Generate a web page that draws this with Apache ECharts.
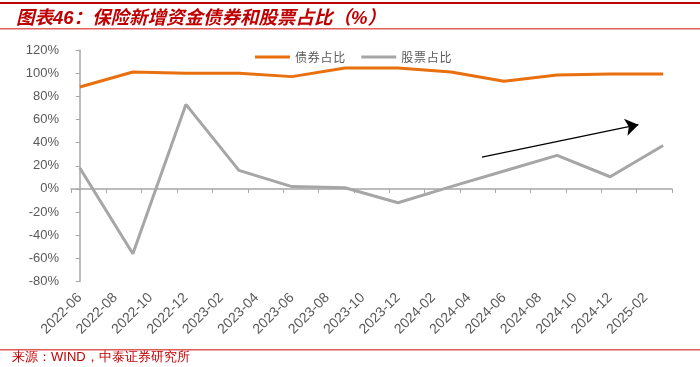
<!DOCTYPE html>
<html><head><meta charset="utf-8">
<script src="https://cdn.jsdelivr.net/npm/echarts@6/dist/echarts.min.js"></script>
<style>html,body{margin:0;padding:0;background:#fff}#c{width:700px;height:367px}</style>
</head><body><div id="c"></div>
<script>
// Monthly categories (data reported quarterly)
const months = ["2022-06","2022-07","2022-08","2022-09","2022-10","2022-11","2022-12",
"2023-01","2023-02","2023-03","2023-04","2023-05","2023-06","2023-07","2023-08","2023-09","2023-10","2023-11","2023-12",
"2024-01","2024-02","2024-03","2024-04","2024-05","2024-06","2024-07","2024-08","2024-09","2024-10","2024-11","2024-12",
"2025-01","2025-02","2025-03"];
const bondShare = [88,null,null,101,null,null,100,null,null,100,null,null,97,null,null,104.5,null,null,104.5,null,null,101,null,null,93,null,null,98.5,null,null,99.3,null,null,99.3];
const stockShare = [18,null,null,-56,null,null,73,null,null,16,null,null,2,null,null,1,null,null,-12,null,null,2,null,null,15.5,null,null,29,null,null,10.5,null,null,37.5];
// trend arrow: [month position, value]
const arrowFrom = [22.75, 27.4];
const arrowTo = [31.6, 55.5];
const yTicks = {min:-80, max:120, step:20};

const chart = echarts.init(document.getElementById('c'));
const hs = '\u200A';
chart.setOption({
  animation:false,
  textStyle:{fontFamily:'"Liberation Sans", Arial, "Noto Sans CJK SC", sans-serif'},
  title:{
    text:'图表46：保险新增资金债券和股票占比（%）',
    left:11, top:5,
    textStyle:{color:'#C00000', fontStyle:'italic', fontWeight:'bold', fontSize:18.5,
      fontFamily:'"Liberation Sans","Noto Sans CJK SC", sans-serif'}
  },
  graphic:[
    {type:'rect', left:0, top:2, shape:{width:700, height:2}, style:{fill:'#C00000'}},
    {type:'rect', left:0, top:28, shape:{width:700, height:1.5}, style:{fill:'#E06060'}},
    {type:'rect', left:0, top:349, shape:{width:700, height:1.5}, style:{fill:'#E05A5A'}},
    {type:'text', left:12, top:351, style:{text:'来源：WIND，中泰证券研究所', fill:'#C00000', fontSize:13,
      font:'13px "Liberation Sans","Noto Sans CJK SC", sans-serif'}}
  ],
  legend:{
    data:['债券占比','股票占比'],
    left:250, top:46, icon:'rect', itemWidth:35, itemHeight:3, itemGap:16,
    textStyle:{color:'#595959', fontSize:12, fontFamily:'"Noto Sans CJK SC", sans-serif'},
    formatter: n => n.split('').join(hs)
  },
  grid:{left:71, right:28, top:50, bottom:85.5, containLabel:false},
  xAxis:[
    {type:'category', data:months, boundaryGap:true,
     axisLine:{onZero:true, lineStyle:{color:'#A6A6A6', width:1.5}},
     axisTick:{show:true, interval:1, length:4, lineStyle:{color:'#A6A6A6'}},
     axisLabel:{show:false}},
    {type:'category', data:months, boundaryGap:true, position:'bottom',
     axisLine:{show:false, onZero:false}, axisTick:{show:false},
     axisLabel:{interval:1, rotate:45, color:'#595959', fontSize:14, margin:14}},
    {type:'value', show:false, min:-0.5, max:months.length-0.5}
  ],
  yAxis:{type:'value', min:yTicks.min, max:yTicks.max, interval:yTicks.step,
    axisLine:{show:true, lineStyle:{color:'#A6A6A6', width:1.5}},
    axisTick:{show:true, length:4, lineStyle:{color:'#A6A6A6'}},
    splitLine:{show:false},
    axisLabel:{formatter:'{value}%', color:'#595959', fontSize:13, margin:12}
  },
  series:[
    {name:'债券占比', type:'line', data:bondShare, connectNulls:true, showSymbol:false, symbol:'none',
     itemStyle:{color:'#E8700E'}, lineStyle:{color:'#E8700E', width:3}},
    {name:'股票占比', type:'line', data:stockShare, connectNulls:true, showSymbol:false, symbol:'none',
     itemStyle:{color:'#A6A6A6'}, lineStyle:{color:'#A6A6A6', width:3}},
    {name:'arrow', type:'line', xAxisIndex:2, data:[], symbol:'none',
     markLine:{silent:true, symbol:['none','arrow'], symbolSize:13, label:{show:false},
       lineStyle:{color:'#000', width:1.2, type:'solid'},
       data:[[{coord:arrowFrom},{coord:arrowTo}]]}}
  ]
});
</script></body></html>
